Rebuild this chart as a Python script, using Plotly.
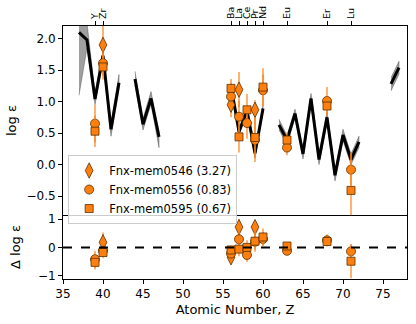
import plotly.graph_objects as go
from plotly.subplots import make_subplots

# model abundance pattern (black line + grey band), gaps where Z jumps
model_z = [37, 38, 39, 40, 41, 42,
           44, 45, 46, 47,
           56, 57, 58, 59, 60,
           62, 63, 64, 65, 66, 67, 68, 69, 70, 71, 72,
           76, 77]
model_logeps = [2.10, 1.98, 1.04, 1.73, 0.56, 1.30,
                1.36, 0.64, 1.05, 0.44,
                1.25, 0.52, 0.86, 0.18, 0.89,
                0.63, 0.39, 0.81, 0.17, 1.05, 0.08, 0.75, -0.17, 0.47, 0.08, 0.36,
                1.28, 1.54]
model_lo = [1.10, 1.85, 0.95, 1.64, 0.45, 1.20,
            1.26, 0.55, 0.96, 0.27,
            1.20, 0.47, 0.81, 0.10, 0.84,
            0.55, 0.32, 0.74, 0.09, 0.97, 0.00, 0.67, -0.26, 0.38, 0.00, 0.27,
            1.17, 1.44]
model_hi = [2.40, 2.25, 1.13, 1.80, 0.66, 1.43,
            1.48, 0.73, 1.16, 0.52,
            1.30, 0.57, 0.91, 0.24, 0.94,
            0.72, 0.46, 0.88, 0.24, 1.13, 0.18, 0.83, -0.09, 0.56, 0.17, 0.45,
            1.38, 1.64]

# element labels on the top axis
elem_z = [39, 40, 56, 57, 58, 59, 60, 63, 68, 71]
elem_names = ["Y", "Zr", "Ba", "La", "Ce", "Pr", "Nd", "Eu", "Er", "Lu"]

# Fnx-mem0546 (diamonds)
z_0546 = [40, 56, 57, 59]
logeps_0546 = [1.90, 0.95, 1.19, 0.87]
err_0546 = [0.35, 0.20, 0.28, 0.15]
delta_0546 = [0.18, -0.35, 0.72, 0.72]

# Fnx-mem0556 (circles)
z_0556 = [39, 40, 56, 57, 58, 59, 60, 63, 68, 71]
logeps_0556 = [0.65, 1.61, 1.08, 0.76, 0.66, 0.39, 1.18, 0.27, 1.01, -0.08]
err_0556 = [0.30, 0.20, 0.20, 0.25, 0.25, 0.35, 0.25, 0.12, 0.22, 0.25]
delta_0556 = [-0.42, -0.12, -0.22, 0.29, -0.27, 0.20, 0.30, -0.12, 0.25, -0.14]

# Fnx-mem0595 (squares)
z_0595 = [39, 40, 56, 57, 58, 59, 60, 63, 68, 71]
logeps_0595 = [0.53, 1.55, 1.21, 0.44, 0.87, 0.43, 1.23, 0.39, 0.93, -0.41]
err_0595 = [0.25, 0.20, 0.15, 0.25, 0.25, 0.30, 0.30, 0.12, 0.15, 0.60]
delta_0595 = [-0.53, -0.18, -0.09, -0.06, 0.00, 0.22, 0.37, 0.05, 0.21, -0.49]

ORANGE = "#ff7f0e"
ERR_COLOR = "rgba(255,127,14,0.6)"
FONT = "DejaVu Sans"


def split_segments(z, *cols):
    segs = []
    start = 0
    for i in range(1, len(z) + 1):
        if i == len(z) or z[i] - z[i - 1] > 1:
            segs.append([z[start:i]] + [c[start:i] for c in cols])
            start = i
    return segs


fig = make_subplots(rows=2, cols=1, shared_xaxes=True,
                    row_heights=[0.747, 0.253], vertical_spacing=0)

for zs, ys, lo, hi in split_segments(model_z, model_logeps, model_lo, model_hi):
    fig.add_trace(go.Scatter(
        x=zs + zs[::-1], y=hi + lo[::-1], fill="toself",
        fillcolor="rgba(80,80,80,0.55)", line=dict(color="rgba(60,60,60,0.4)", width=1),
        mode="lines", showlegend=False, hoverinfo="skip",
    ), row=1, col=1)
    fig.add_trace(go.Scatter(
        x=zs, y=ys, mode="lines", line=dict(color="black", width=3),
        showlegend=False,
    ), row=1, col=1)

stars = [
    ("Fnx-mem0546 (3.27)", "diamond-tall", 11, z_0546, logeps_0546, err_0546, delta_0546),
    ("Fnx-mem0556 (0.83)", "circle", 9, z_0556, logeps_0556, err_0556, delta_0556),
    ("Fnx-mem0595 (0.67)", "square", 8, z_0595, logeps_0595, err_0595, delta_0595),
]
for name, symbol, size, zs, ys, errs, deltas in stars:
    marker = dict(symbol=symbol, size=size, color=ORANGE,
                  line=dict(color="#5a3000", width=0.8))
    err = dict(type="data", array=errs, color=ERR_COLOR, thickness=2, width=0)
    fig.add_trace(go.Scatter(
        x=zs, y=ys, mode="markers", name=name, marker=marker, error_y=err,
    ), row=1, col=1)
    fig.add_trace(go.Scatter(
        x=zs, y=deltas, mode="markers", name=name, marker=marker, error_y=err,
        showlegend=False,
    ), row=2, col=1)

fig.add_hline(y=0, line=dict(color="black", width=2, dash="dash"), row=2, col=1)

axis_common = dict(showline=True, linecolor="black", linewidth=1, mirror=True,
                   showgrid=False, zeroline=False, ticks="outside", ticklen=4,
                   tickcolor="black", tickfont=dict(size=12, color="black"),
                   automargin=False)

fig.update_xaxes(axis_common, range=[35, 78])
fig.update_xaxes(side="top", tickvals=elem_z, ticktext=elem_names, tickangle=-90,
                 showticklabels=True, tickfont=dict(size=9.5, color="black"),
                 row=1, col=1)
fig.update_xaxes(tickvals=[35, 40, 45, 50, 55, 60, 65, 70, 75], mirror=False,
                 title=dict(text="Atomic Number, Z", font=dict(size=13, color="black"),
                            standoff=4),
                 row=2, col=1)
fig.update_yaxes(axis_common)
fig.update_yaxes(range=[-0.8, 2.2], tickvals=[-0.5, 0, 0.5, 1.0, 1.5, 2.0],
                 tickformat=".1f",
                 title=dict(text="log ε", font=dict(size=13, color="black"), standoff=6),
                 row=1, col=1)
fig.update_yaxes(range=[-1.12, 1.15], tickvals=[-1, 0, 1],
                 title=dict(text="Δ log ε", font=dict(size=13, color="black"), standoff=14),
                 row=2, col=1)

fig.update_layout(
    width=416, height=324,
    margin=dict(l=63, r=9, t=26, b=45, autoexpand=False),
    plot_bgcolor="white", paper_bgcolor="white",
    font=dict(family=FONT, color="black"),
    legend=dict(x=0.015, y=0.49, xanchor="left", yanchor="top",
                bgcolor="rgba(255,255,255,0.8)", bordercolor="#cccccc", borderwidth=1,
                font=dict(size=11.5), tracegroupgap=0, itemwidth=30),
)

# the page has a default 8px body margin; drop it so the figure fills the window
fig.write_html("out.html", config={"displayModeBar": False},
               post_script="document.body.style.margin = '0';")
